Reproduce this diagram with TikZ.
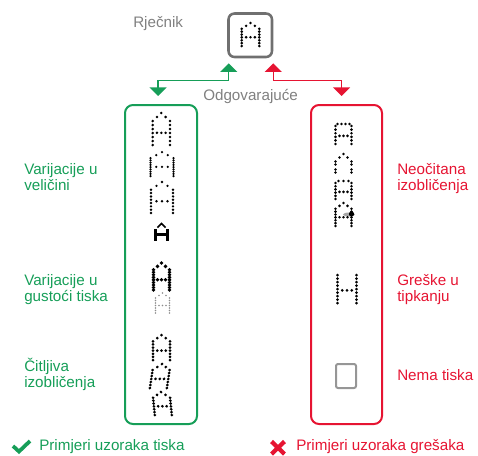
\documentclass[tikz,border=0pt]{standalone}
\usepackage{fontspec}
\setmainfont{Liberation Sans}
\usetikzlibrary{arrows.meta,fit,calc}

% dotted letter A: centre x, top y, width, height, dots per column, dot radius, colour
\newcommand{\dotA}[7]{%
  \fill[#7] (#1,#2) circle[radius=#6];
  \fill[#7] ({#1-#3/4},{#2+#4/8}) circle[radius=#6] ({#1+#3/4},{#2+#4/8}) circle[radius=#6];
  \foreach \k in {1,...,#5}{%
    \fill[#7] ({#1-#3/2},{#2+#4/4+(\k-1)*0.75*#4/(#5-1)}) circle[radius=#6]
              ({#1+#3/2},{#2+#4/4+(\k-1)*0.75*#4/(#5-1)}) circle[radius=#6];}
  \foreach \k in {1,2,3}{%
    \fill[#7] ({#1-#3/2+\k*#3/4},{#2+0.62*#4}) circle[radius=#6];}
}
% dotted letter H: same arguments
\newcommand{\dotH}[7]{%
  \foreach \k in {1,...,#5}{%
    \fill[#7] ({#1-#3/2},{#2+(\k-1)*#4/(#5-1)}) circle[radius=#6]
              ({#1+#3/2},{#2+(\k-1)*#4/(#5-1)}) circle[radius=#6];}
  \foreach \k in {1,2,3}{%
    \fill[#7] ({#1-#3/2+\k*#3/4},{#2+0.55*#4}) circle[radius=#6];}
}

\begin{document}
\begin{tikzpicture}[x=0.75pt,y=0.75pt,yscale=-1,xscale=1,
  lbl/.style={font=\fontsize{11.4}{11.8}\selectfont, inner sep=0pt, align=left, anchor=base west},
  graytext/.style={lbl, text={rgb, 255:red, 128; green, 128; blue, 128}},
  goodtext/.style={lbl, text={rgb, 255:red, 22; green, 158; blue, 88}},
  badtext/.style={lbl, text={rgb, 255:red, 230; green, 20; blue, 50}},
  goodline/.style={draw={rgb, 255:red, 22; green, 158; blue, 88}},
  badline/.style={draw={rgb, 255:red, 230; green, 20; blue, 50}},
  tips/.style={{Triangle[width=12.75pt,length=6.5pt]}-{Triangle[width=12.75pt,length=6.5pt]}, line width=1.1}]
\useasboundingbox (0,0) rectangle (478,455);

%Shape: dictionary box
\node [fit={(228.5,13.5) (272,57)}, inner sep=0pt, draw={rgb, 255:red, 112; green, 112; blue, 112}, line width=1.9, rounded corners=4.5pt] (dict) {};
\dotA{250.5}{23}{17.6}{23}{7}{1.45}{black}

%Shape: good samples box
\node [fit={(125,105) (197,424)}, inner sep=0pt, goodline, line width=1.5, rounded corners=6pt] (goodbox) {};
%Shape: bad samples box
\node [fit={(311,105) (382,424)}, inner sep=0pt, badline, line width=1.5, rounded corners=6pt] (badbox) {};

%Connectors
\draw [goodline, tips] ($(dict.south west)+(1.5,5)$) -- ++(0,17) -| ($(goodbox.north)+(-3,-8)$);
\draw [badline, tips] ($(dict.south east)+(0,5)$) -- ++(0,17) -| ($(badbox.north)+(-5,-8)$);

% Text Node
\node [graytext] (dictlbl) at (133,27) {Rječnik};
% Text Node
\node [graytext] (matchlbl) at (203,100) {Odgovarajuće};

%Glyphs: good samples
\dotA{161.3}{113}{17.3}{32}{7}{1.4}{black}
\dotA{162}{152}{23}{24}{9}{1.25}{black}
\dotA{162}{182}{22}{31}{8}{1.35}{black}
\draw [line width=1.3] (157.5,227.5) -- (161.5,223.5) -- (165.5,227.5);
\draw [line width=2.6] (155.5,240.5) -- (155.5,229) (167.5,240.5) -- (167.5,229) (155.5,234.5) -- (167.5,234.5);
\dotA{161.5}{263}{16}{27}{9}{1.9}{black}
\dotA{162.5}{293}{14}{20}{7}{0.9}{black!45}
\dotA{161.5}{335}{17}{25}{7}{1.5}{black}
\begin{scope}[shift={(162,364)}, xslant=-0.15]
\dotA{0}{0}{17}{24}{7}{1.5}{black}
\end{scope}
\begin{scope}[shift={(161,392)}, xslant=0.1]
\dotA{0}{0}{17}{23}{7}{1.5}{black}
\end{scope}

%Glyphs: bad samples
\dotH{343.5}{126}{16}{18}{6}{1.45}{black}
\foreach \xx in {337.5,341.5,345.5,349.5} \fill (\xx,124) circle[radius=1.45];
\fill (343.5,154) circle[radius=1.45] (339.5,157.5) circle[radius=1.45] (347.5,157.5) circle[radius=1.45];
\foreach \yy in {161.5,164.5,169.5,172.5} \fill (335.5,\yy) circle[radius=1.45] (351.5,\yy) circle[radius=1.45];
\dotH{343.5}{183}{16}{16}{6}{1.45}{black}
\foreach \xx in {338.5,343.5,348.5} \fill (\xx,181) circle[radius=1.45];
\fill[black!35] (349,214.5) ellipse[x radius=6, y radius=2];
\dotA{343.5}{203}{16}{23}{7}{1.45}{black}
\fill (351.5,214) circle[radius=2.6];
\dotH{347}{275}{19}{28}{9}{1.5}{black}
\draw [draw={rgb, 255:red, 150; green, 150; blue, 150}, line width=1.5, rounded corners=1.5pt] (336,364) rectangle (356,388);

% Text Node
\node [goodtext] (sizelbl) at (24,190) {Varijacije u\\veličini};
% Text Node
\node [goodtext] (densitylbl) at (24,301) {Varijacije u\\gustoći tiska};
% Text Node
\node [goodtext] (readlbl) at (24,387) {Čitljiva\\izobličenja};
% Text Node
\node [badtext] (unreadlbl) at (397,190) {Neočitana\\izobličenja};
% Text Node
\node [badtext] (typolbl) at (397,301) {Greške u\\tipkanju};
% Text Node
\node [badtext] (noprintlbl) at (397,380) {Nema tiska};

%Legend
\draw [goodline, line width=2.8, line cap=butt] (13,446) -- (19,451.5) -- (30,441);
\node [goodtext] (goodlegend) at (39,450.5) {Primjeri uzoraka tiska};
\draw [badline, line width=3.2] (271.5,441.5) -- (284.5,454) (271.5,454) -- (284.5,441.5);
\node [badtext] (badlegend) at (296,450.5) {Primjeri uzoraka grešaka};

\end{tikzpicture}
\end{document}
